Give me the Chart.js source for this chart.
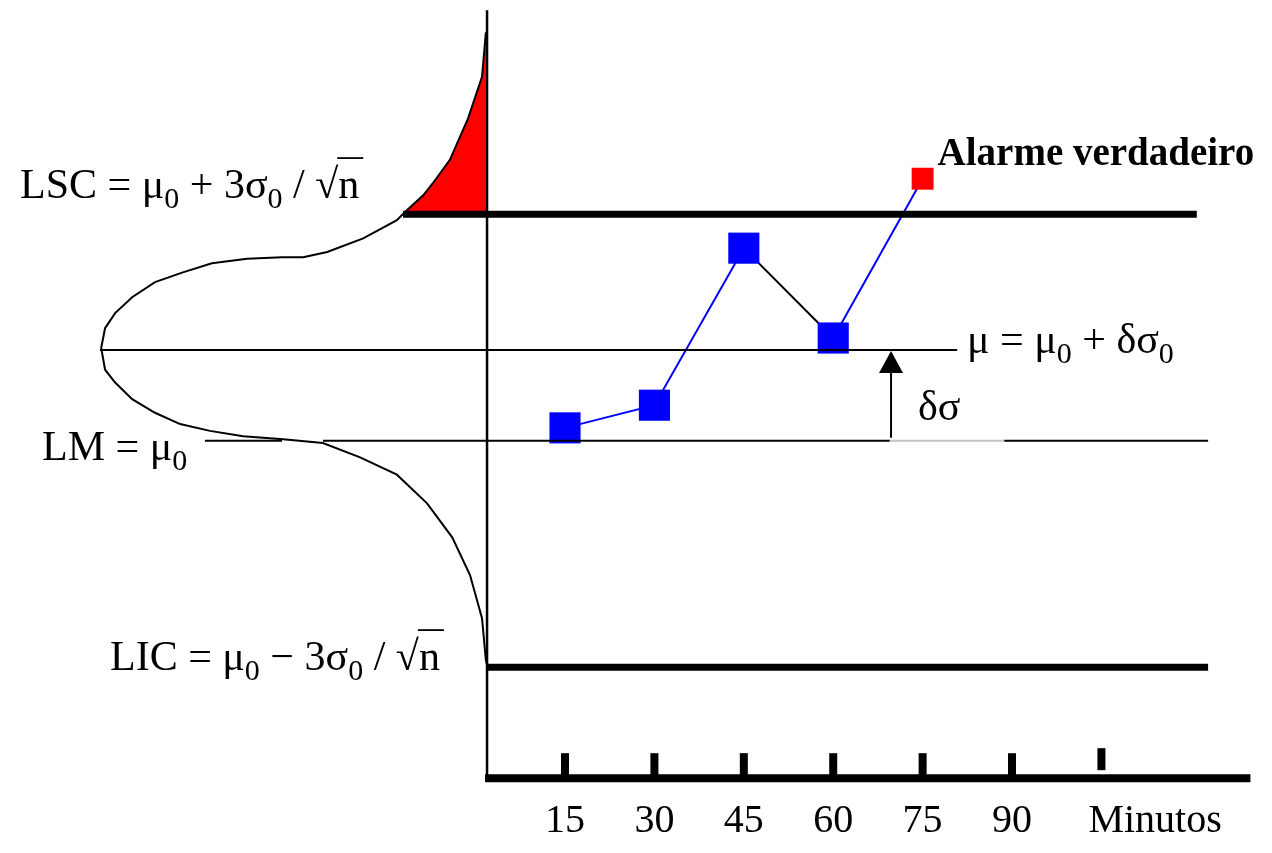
<!DOCTYPE html>
<html>
<head>
<meta charset="utf-8">
<script src="https://cdn.jsdelivr.net/npm/chart.js@4/dist/chart.umd.min.js"></script>
<style>
  html, body { margin: 0; padding: 0; background: #fff; }
  #wrap { width: 1272px; height: 853px; }
</style>
</head>
<body>
<div id="wrap"><canvas id="chart"></canvas></div>
<script>
// sampling times (minutes) and subgroup means, in sigma units of the mean
var minutes = [15, 30, 45, 60, 75];
var means = [0.17, 0.47, 2.55, 1.36, 3.47];
var tickMinutes = [15, 30, 45, 60, 75, 90, 105];
var tickLabels = ['15', '30', '45', '60', '75', '90', 'Minutos'];

// control limits: LSC, LM, LIC
var limitValues = [3, 0, -3];
// shifted process mean: mu = mu0 + delta * sigma0
var shift = 1.2;

// bell curve of the shifted process, laid on its side against the vertical axis
var curveSigma = [5.41, 4.82, 4.27, 3.72, 3.41, 3.25, 3.03, 2.92, 2.68, 2.50, 2.43, 2.43,
  2.41, 2.35, 2.23, 2.10, 1.90, 1.69, 1.49, 1.23, 0.94, 0.77, 0.55, 0.37, 0.22, 0.13,
  0.06, 0.02, -0.03, -0.22, -0.45, -0.83, -1.28, -1.78, -2.35, -2.91, -2.97];
var curveDensity = [0.003, 0.013, 0.049, 0.096, 0.140, 0.165, 0.212, 0.233, 0.320, 0.413,
  0.475, 0.530, 0.620, 0.711, 0.786, 0.858, 0.917, 0.961, 0.987, 0.997, 0.987, 0.961,
  0.917, 0.858, 0.793, 0.716, 0.630, 0.527, 0.424, 0.328, 0.233, 0.155, 0.090, 0.044,
  0.013, 0.003, 0];

var LSC = limitValues[0], LM = limitValues[1], LIC = limitValues[2];
var SERIF = '"Liberation Serif", "Times New Roman", serif';

var curvePts = curveSigma.map(function(v, i) { return { x: curveDensity[i], y: v }; });
// upper tail beyond LSC, shaded red
var tailPts = curvePts.filter(function(p) { return p.y >= LSC; });
var samplePts = minutes.map(function(m, i) { return { x: m, y: means[i] }; });

// draws a run of text pieces, with smaller lowered subscripts and an overbar for the root
function rich(ctx, x, y, parts) {
  parts.forEach(function(p) {
    var size = p.sub ? 30 : 42;
    ctx.font = size + 'px ' + SERIF;
    var w = ctx.measureText(p.t).width;
    ctx.fillText(p.t, x, y + (p.sub ? 10 : 0));
    if (p.bar) {
      ctx.fillRect(x - 1, y - 41, w + 5, 1.8);
    }
    x += w;
  });
}

var overlay = {
  id: 'overlay',
  afterDatasetsDraw: function(chart) {
    var ctx = chart.ctx;
    var sx = chart.scales.x, sd = chart.scales.xd, sy = chart.scales.y;
    var X = function(m) { return sx.getPixelForValue(m); };
    var D = function(d) { return sd.getPixelForValue(d); };
    var Y = function(v) { return sy.getPixelForValue(v); };
    var axisV = -4.47;

    function line(x1, y1, x2, y2, w, color) {
      ctx.save();
      ctx.strokeStyle = color || '#000';
      ctx.lineWidth = w;
      ctx.beginPath();
      ctx.moveTo(x1, y1);
      ctx.lineTo(x2, y2);
      ctx.stroke();
      ctx.restore();
    }

    // limit lines and the shifted mean
    line(D(0.217), Y(LSC), X(121), Y(LSC), 7);
    line(D(1), Y(shift), X(80.8), Y(shift), 2);
    line(D(0.729), Y(LM), D(0.53), Y(LM), 2);
    line(D(0.424), Y(LM), X(69.5), Y(LM), 2);
    line(X(69.5), Y(LM), X(88.7), Y(LM), 2, '#c4c4c4');
    line(X(88.7), Y(LM), X(122.9), Y(LM), 2);
    line(D(0), Y(LIC), X(122.9), Y(LIC), 7);

    // axes
    line(D(0), Y(5.7), D(0), Y(axisV), 2.5);
    line(D(0) - 2, Y(axisV), X(130), Y(axisV), 8);
    ctx.save();
    ctx.fillStyle = '#000';
    ctx.textBaseline = 'alphabetic';
    tickMinutes.forEach(function(m, i) {
      var last = i === tickMinutes.length - 1;
      var top = Y(axisV) - (last ? 30 : 25);
      var bottom = last ? Y(axisV) - 8 : Y(axisV);
      line(X(m), top, X(m), bottom, 8);
      ctx.font = '40px ' + SERIF;
      ctx.textAlign = last ? 'left' : 'center';
      ctx.fillText(tickLabels[i], last ? X(m) - 13 : X(m), Y(axisV) + 54);
    });

    // shift arrow
    var ax = X(69.7);
    line(ax, Y(LM) - 3, ax, Y(shift) + 20, 2);
    ctx.beginPath();
    ctx.moveTo(ax, Y(shift) + 1);
    ctx.lineTo(ax - 12, Y(shift) + 23);
    ctx.lineTo(ax + 12, Y(shift) + 23);
    ctx.closePath();
    ctx.fill();

    // formulas
    ctx.textAlign = 'left';
    rich(ctx, 20, Y(LSC) - 16, [{ t: 'LSC = \u03bc' }, { t: '0', sub: true }, { t: ' + 3\u03c3' },
      { t: '0', sub: true }, { t: ' / \u221a' }, { t: 'n', bar: true }]);
    rich(ctx, 42, Y(LM) + 19, [{ t: 'LM = \u03bc' }, { t: '0', sub: true }]);
    rich(ctx, 110, Y(LIC) + 3, [{ t: 'LIC = \u03bc' }, { t: '0', sub: true }, { t: ' \u2212 3\u03c3' },
      { t: '0', sub: true }, { t: ' / \u221a' }, { t: 'n', bar: true }]);
    rich(ctx, 967, Y(shift) + 3, [{ t: '\u03bc = \u03bc' }, { t: '0', sub: true }, { t: ' + \u03b4\u03c3' },
      { t: '0', sub: true }]);
    rich(ctx, 918, Y(shift / 2) + 25, [{ t: '\u03b4\u03c3' }]);

    ctx.font = 'bold 39px ' + SERIF;
    var lastIdx = minutes.length - 1;
    ctx.fillText('Alarme verdadeiro', X(minutes[lastIdx]) + 15, Y(means[lastIdx]) - 14);
    ctx.restore();
  }
};

new Chart(document.getElementById('chart'), {
  type: 'line',
  data: {
    datasets: [
      {
        data: samplePts,
        xAxisID: 'x',
        borderColor: '#0000ff',
        borderWidth: 2,
        segment: {
          borderColor: function(c) { return c.p1.parsed.y < c.p0.parsed.y ? '#000000' : '#0000ff'; }
        },
        pointStyle: 'rect',
        pointRadius: means.map(function(v) { return v > LSC ? 15.5 : 22; }),
        pointBackgroundColor: means.map(function(v) { return v > LSC ? '#ff0000' : '#0000ff'; }),
        pointBorderWidth: 0,
        tension: 0,
        fill: false
      },
      {
        data: curvePts,
        xAxisID: 'xd',
        borderColor: '#000',
        borderWidth: 2,
        pointRadius: 0,
        tension: 0,
        fill: false
      },
      {
        data: tailPts,
        xAxisID: 'xd',
        borderWidth: 0,
        borderColor: 'rgba(0,0,0,0)',
        backgroundColor: '#ff0000',
        pointRadius: 0,
        tension: 0,
        fill: { value: LSC }
      }
    ]
  },
  options: {
    responsive: true,
    maintainAspectRatio: false,
    animation: false,
    events: [],
    layout: { padding: 0, autoPadding: false },
    plugins: { legend: { display: false }, tooltip: { enabled: false } },
    scales: {
      x: { type: 'linear', min: -79.8, max: 133.62, display: false },
      xd: { type: 'linear', reverse: true, min: -2.0283, max: 1.2585, display: false },
      y: { type: 'linear', min: -5.461, max: 5.837, display: false }
    }
  },
  plugins: [overlay]
});
</script>
</body>
</html>
